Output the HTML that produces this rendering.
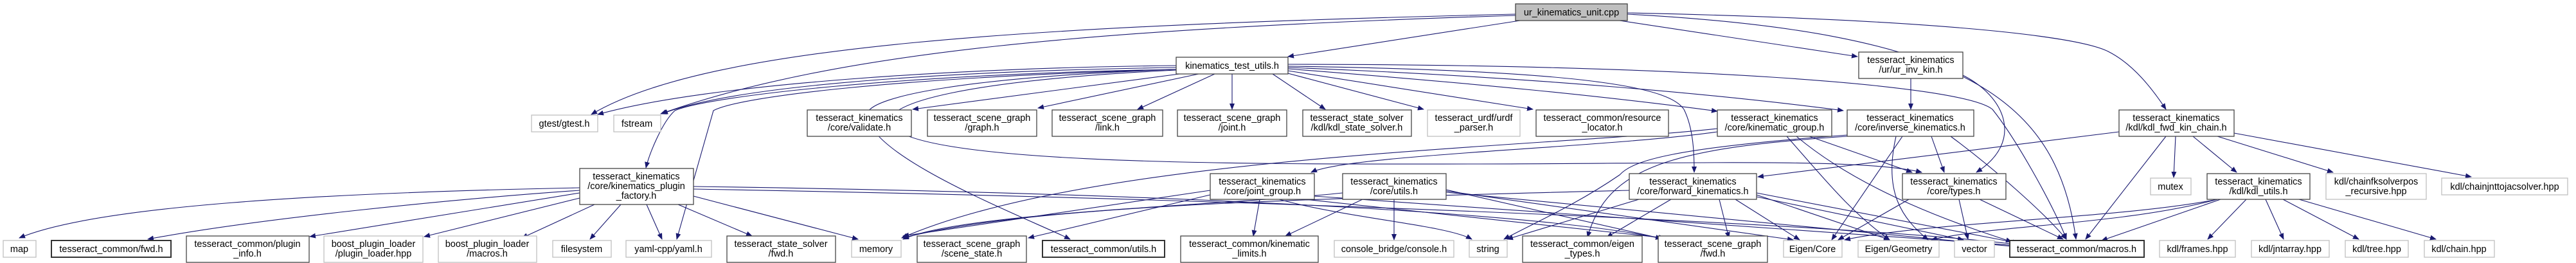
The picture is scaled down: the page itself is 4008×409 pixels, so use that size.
<!DOCTYPE html>
<html><head><meta charset="utf-8"><style>
html,body{margin:0;padding:0;background:#fff;width:4008px;height:409px;overflow:hidden}
svg{display:block}
text{font-family:"Liberation Sans",sans-serif;font-size:14.5px;fill:#000;text-anchor:middle}
.n{fill:#fff;stroke:#444;stroke-width:1.3}
.b{fill:#fff;stroke:#333;stroke-width:2}
.g{fill:#fff;stroke:#bfbfbf;stroke-width:1.3}
.e{fill:none;stroke:#191970;stroke-width:1.1;marker-end:url(#a)}
</style></head><body>
<svg width="4008" height="409" viewBox="0 0 4008 409" xmlns="http://www.w3.org/2000/svg">
<defs><marker id="a" markerWidth="10" markerHeight="8" refX="9" refY="4" orient="auto" markerUnits="userSpaceOnUse"><path d="M0,0 L10,4 L0,8 z" fill="#191970"/></marker></defs>
<g>
<path class="e" d="M2358,22 C1600,40 1100,70 920,178"/>
<path class="e" d="M2358,24 C1700,45 1300,80 1028,177"/>
<path class="e" d="M2365,32 L2004,88"/>
<path class="e" d="M2520,32 L2890,88"/>
<path class="e" d="M2532,20 C3000,30 3230,55 3280,80 C3320,100 3350,140 3370,170"/>
<path class="e" d="M2532,22 C3050,50 3200,150 3230,372"/>
<path class="e" d="M1830,102 C1500,105 1100,130 930,178"/>
<path class="e" d="M1830,105 C1500,110 1150,130 1030,177"/>
<path class="e" d="M1830,108 C1400,115 1100,150 1050,172 C1030,190 1010,240 1005,261"/>
<path class="e" d="M1830,108 C1400,120 1150,150 1110,172 L1053,372"/>
<path class="e" d="M1850,113 L1420,170"/>
<path class="e" d="M1865,115 L1615,168"/>
<path class="e" d="M1890,115 L1770,170"/>
<path class="e" d="M1917,115 L1917,170"/>
<path class="e" d="M1980,115 L2062,170"/>
<path class="e" d="M2000,113 L2215,170"/>
<path class="e" d="M2004,110 L2385,170"/>
<path class="e" d="M2004,107 C2300,130 2500,150 2672,173"/>
<path class="e" d="M2004,105 C2400,120 2700,150 2868,172"/>
<path class="e" d="M2004,103 C2500,110 2600,140 2620,170 C2635,200 2636,240 2636,268"/>
<path class="e" d="M1830,108 C1500,120 1360,150 1350,175 C1340,240 1600,340 1665,372"/>
<path class="e" d="M1830,109 C1500,125 1380,160 1385,190 C1400,260 2000,255 2300,255 C2600,255 2900,245 2990,268"/>
<path class="e" d="M2004,100 C2600,100 3050,130 3100,170 C3140,220 3200,330 3215,372"/>
<path class="e" d="M902,292 C500,300 150,320 30,370"/>
<path class="e" d="M902,296 C700,310 400,340 230,372"/>
<path class="e" d="M902,300 L482,368"/>
<path class="e" d="M902,308 L660,368"/>
<path class="e" d="M925,318 L812,370"/>
<path class="e" d="M966,318 L918,372"/>
<path class="e" d="M1006,318 L1030,372"/>
<path class="e" d="M1055,318 L1170,367"/>
<path class="e" d="M1079,305 L1335,372"/>
<path class="e" d="M1079,290 C1800,300 2400,330 2585,371"/>
<path class="e" d="M1079,294 C2000,310 2900,350 3135,380"/>
<path class="e" d="M1883,296 L1405,367"/>
<path class="e" d="M1883,303 L1600,370"/>
<path class="e" d="M1960,310 L1950,367"/>
<path class="e" d="M2045,305 L3140,382"/>
<path class="e" d="M2030,310 L2590,370"/>
<path class="e" d="M1990,310 C2100,340 2250,350 2290,372"/>
<path class="e" d="M2169,310 L2169,373"/>
<path class="e" d="M2120,310 L2000,367"/>
<path class="e" d="M2250,295 L2590,372"/>
<path class="e" d="M2250,297 L2790,373"/>
<path class="e" d="M2250,299 L3140,384"/>
<path class="e" d="M2089,300 C1900,320 1500,330 1405,372"/>
<path class="e" d="M2550,310 L2345,372"/>
<path class="e" d="M2600,310 L2500,369"/>
<path class="e" d="M2675,310 L2690,370"/>
<path class="e" d="M2700,310 L2800,373"/>
<path class="e" d="M2733,303 L2940,373"/>
<path class="e" d="M2733,300 L3140,378"/>
<path class="e" d="M2733,306 L3055,373"/>
<path class="e" d="M2535,296 C2000,310 1600,320 1405,370"/>
<path class="e" d="M2672,200 C2400,230 1700,240 1403,370"/>
<path class="e" d="M2672,205 C2500,230 2100,240 2040,268"/>
<path class="e" d="M2815,212 L2975,268"/>
<path class="e" d="M2780,212 C2840,280 2880,330 2940,373"/>
<path class="e" d="M2795,212 C2900,300 3050,350 3130,376"/>
<path class="e" d="M3297,205 L2735,275"/>
<path class="e" d="M3005,212 L3025,268"/>
<path class="e" d="M2960,212 L2850,373"/>
<path class="e" d="M2874,210 C2600,230 2540,250 2520,272 C2450,320 2380,350 2340,372"/>
<path class="e" d="M2874,212 C2600,230 2500,260 2470,369"/>
<path class="e" d="M3035,212 C3100,260 3180,330 3215,372"/>
<path class="e" d="M2950,212 C2930,300 2960,340 3000,373"/>
<path class="e" d="M2973,122 L2973,170"/>
<path class="e" d="M3054,117 C3120,150 3150,220 3075,268"/>
<path class="e" d="M3048,310 L3062,372"/>
<path class="e" d="M3080,310 L3210,372"/>
<path class="e" d="M2970,310 L2860,373"/>
<path class="e" d="M3370,212 L3245,372"/>
<path class="e" d="M3385,212 L3382,276"/>
<path class="e" d="M3412,212 L3480,268"/>
<path class="e" d="M3450,212 L3630,268"/>
<path class="e" d="M3476,207 L3845,275"/>
<path class="e" d="M3455,310 L3270,374"/>
<path class="e" d="M3495,310 L3435,372"/>
<path class="e" d="M3525,310 L3553,372"/>
<path class="e" d="M3552,310 L3670,372"/>
<path class="e" d="M3577,310 L3790,372"/>
<path class="e" d="M3450,310 C3300,340 3000,345 2870,373"/>
<path class="e" d="M3450,310 C3300,350 3100,350 3005,373"/>
</g>
<rect x="2358" y="6" width="174" height="26" fill="#bfbfbf" stroke="#444" stroke-width="1.3"/><text x="2445" y="24">ur_kinematics_unit.cpp</text>
<rect class="n" x="1830" y="89" width="174" height="26"/><text x="1917" y="107">kinematics_test_utils.h</text>
<rect class="n" x="2892" y="81" width="162" height="41"/><text x="2973" y="98">tesseract_kinematics</text><text x="2973" y="113">/ur/ur_inv_kin.h</text>
<rect class="g" x="827" y="179" width="103" height="26"/><text x="878" y="197">gtest/gtest.h</text>
<rect class="g" x="955" y="179" width="73" height="26"/><text x="991" y="197">fstream</text>
<rect class="n" x="1256" y="171" width="162" height="41"/><text x="1337" y="188">tesseract_kinematics</text><text x="1337" y="203">/core/validate.h</text>
<rect class="n" x="1443" y="171" width="170" height="41"/><text x="1528" y="188">tesseract_scene_graph</text><text x="1528" y="203">/graph.h</text>
<rect class="n" x="1637" y="171" width="172" height="41"/><text x="1723" y="188">tesseract_scene_graph</text><text x="1723" y="203">/link.h</text>
<rect class="n" x="1832" y="171" width="170" height="41"/><text x="1917" y="188">tesseract_scene_graph</text><text x="1917" y="203">/joint.h</text>
<rect class="n" x="2027" y="171" width="169" height="41"/><text x="2111" y="188">tesseract_state_solver</text><text x="2111" y="203">/kdl/kdl_state_solver.h</text>
<rect class="g" x="2221" y="171" width="144" height="41"/><text x="2293" y="188">tesseract_urdf/urdf</text><text x="2293" y="203">_parser.h</text>
<rect class="n" x="2390" y="171" width="206" height="41"/><text x="2493" y="188">tesseract_common/resource</text><text x="2493" y="203">_locator.h</text>
<rect class="n" x="2672" y="171" width="178" height="41"/><text x="2761" y="188">tesseract_kinematics</text><text x="2761" y="203">/core/kinematic_group.h</text>
<rect class="n" x="2874" y="171" width="197" height="41"/><text x="2972" y="188">tesseract_kinematics</text><text x="2972" y="203">/core/inverse_kinematics.h</text>
<rect class="n" x="3297" y="171" width="179" height="41"/><text x="3386" y="188">tesseract_kinematics</text><text x="3386" y="203">/kdl/kdl_fwd_kin_chain.h</text>
<rect class="n" x="902" y="262" width="177" height="56"/><text x="990" y="279">tesseract_kinematics</text><text x="990" y="294">/core/kinematics_plugin</text><text x="990" y="309">_factory.h</text>
<rect class="n" x="1883" y="270" width="162" height="40"/><text x="1964" y="287">tesseract_kinematics</text><text x="1964" y="302">/core/joint_group.h</text>
<rect class="n" x="2089" y="270" width="161" height="40"/><text x="2169" y="287">tesseract_kinematics</text><text x="2169" y="302">/core/utils.h</text>
<rect class="n" x="2535" y="270" width="198" height="40"/><text x="2634" y="287">tesseract_kinematics</text><text x="2634" y="302">/core/forward_kinematics.h</text>
<rect class="n" x="2960" y="270" width="161" height="40"/><text x="3040" y="287">tesseract_kinematics</text><text x="3040" y="302">/core/types.h</text>
<rect class="g" x="3346" y="277" width="63" height="26"/><text x="3377" y="295">mutex</text>
<rect class="n" x="3434" y="270" width="160" height="40"/><text x="3514" y="287">tesseract_kinematics</text><text x="3514" y="302">/kdl/kdl_utils.h</text>
<rect class="g" x="3619" y="270" width="156" height="40"/><text x="3697" y="287">kdl/chainfksolverpos</text><text x="3697" y="302">_recursive.hpp</text>
<rect class="g" x="3799" y="277" width="196" height="26"/><text x="3897" y="295">kdl/chainjnttojacsolver.hpp</text>
<rect class="g" x="5" y="374" width="51" height="26"/><text x="30" y="392">map</text>
<rect class="b" x="80" y="374" width="186" height="26"/><text x="173" y="392">tesseract_common/fwd.h</text>
<rect class="n" x="290" y="367" width="191" height="41"/><text x="385" y="384">tesseract_common/plugin</text><text x="385" y="399">_info.h</text>
<rect class="g" x="504" y="367" width="154" height="41"/><text x="581" y="384">boost_plugin_loader</text><text x="581" y="399">/plugin_loader.hpp</text>
<rect class="g" x="682" y="367" width="153" height="41"/><text x="758" y="384">boost_plugin_loader</text><text x="758" y="399">/macros.h</text>
<rect class="g" x="860" y="374" width="91" height="26"/><text x="905" y="392">filesystem</text>
<rect class="g" x="974" y="374" width="133" height="26"/><text x="1040" y="392">yaml-cpp/yaml.h</text>
<rect class="n" x="1131" y="367" width="169" height="41"/><text x="1215" y="384">tesseract_state_solver</text><text x="1215" y="399">/fwd.h</text>
<rect class="g" x="1325" y="374" width="77" height="26"/><text x="1363" y="392">memory</text>
<rect class="n" x="1427" y="367" width="170" height="41"/><text x="1512" y="384">tesseract_scene_graph</text><text x="1512" y="399">/scene_state.h</text>
<rect class="b" x="1622" y="374" width="190" height="26"/><text x="1717" y="392">tesseract_common/utils.h</text>
<rect class="n" x="1837" y="367" width="214" height="41"/><text x="1944" y="384">tesseract_common/kinematic</text><text x="1944" y="399">_limits.h</text>
<rect class="g" x="2076" y="374" width="186" height="26"/><text x="2169" y="392">console_bridge/console.h</text>
<rect class="g" x="2286" y="374" width="59" height="26"/><text x="2315" y="392">string</text>
<rect class="n" x="2369" y="367" width="186" height="41"/><text x="2462" y="384">tesseract_common/eigen</text><text x="2462" y="399">_types.h</text>
<rect class="n" x="2580" y="367" width="170" height="41"/><text x="2665" y="384">tesseract_scene_graph</text><text x="2665" y="399">/fwd.h</text>
<rect class="g" x="2775" y="374" width="91" height="26"/><text x="2820" y="392">Eigen/Core</text>
<rect class="g" x="2891" y="374" width="126" height="26"/><text x="2954" y="392">Eigen/Geometry</text>
<rect class="g" x="3041" y="374" width="62" height="26"/><text x="3072" y="392">vector</text>
<rect class="b" x="3127" y="374" width="209" height="26"/><text x="3231" y="392">tesseract_common/macros.h</text>
<rect class="g" x="3360" y="374" width="118" height="26"/><text x="3419" y="392">kdl/frames.hpp</text>
<rect class="g" x="3503" y="374" width="121" height="26"/><text x="3563" y="392">kdl/jntarray.hpp</text>
<rect class="g" x="3649" y="374" width="98" height="26"/><text x="3698" y="392">kdl/tree.hpp</text>
<rect class="g" x="3772" y="374" width="109" height="26"/><text x="3826" y="392">kdl/chain.hpp</text>
</svg>
</body></html>
